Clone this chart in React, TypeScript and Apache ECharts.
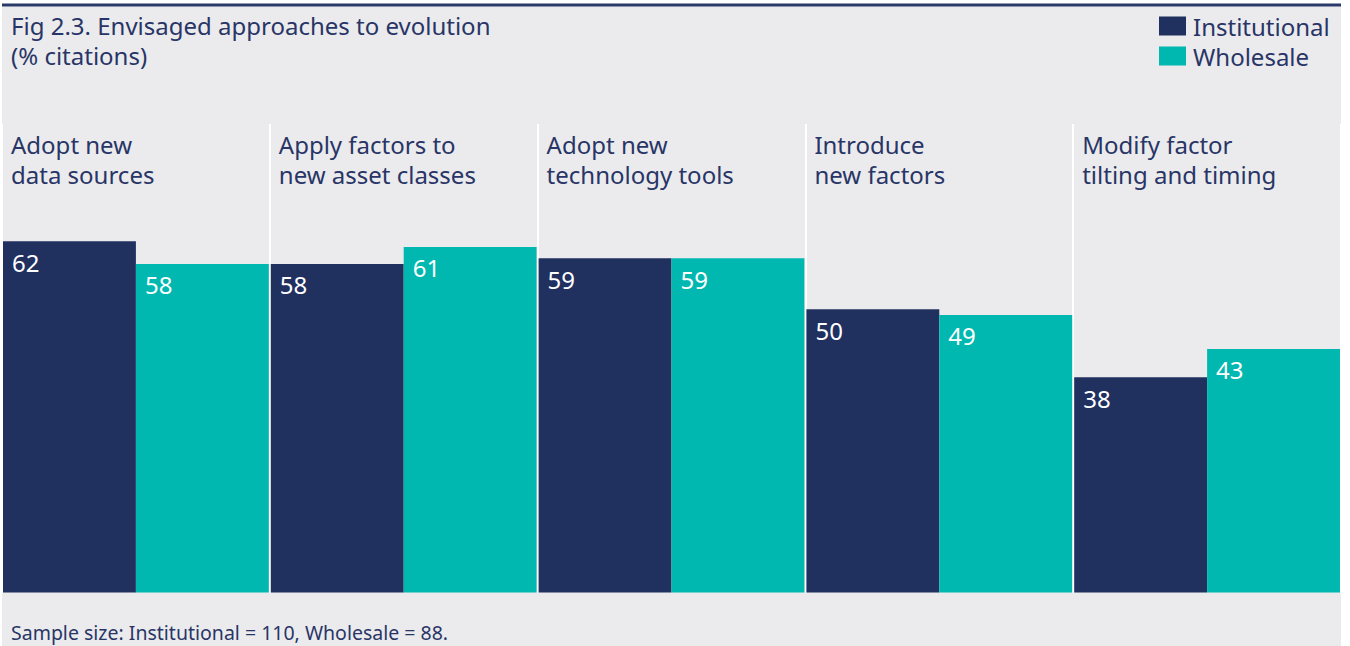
import React, { useEffect, useRef } from "react";
import * as echarts from "echarts";

const categories = [
  "Adopt new\ndata sources",
  "Apply factors to\nnew asset classes",
  "Adopt new\ntechnology tools",
  "Introduce\nnew factors",
  "Modify factor\ntilting and timing",
];
const institutional = [62, 58, 59, 50, 38];
const wholesale = [58, 61, 59, 49, 43];
const seriesNames = ["Institutional", "Wholesale"];
const titleText = "Fig 2.3. Envisaged approaches to evolution\n(% citations)";
const footnote = "Sample size: Institutional = 110, Wholesale = 88.";

const NAVY = "#20305f";
const TEAL = "#00b8b0";
const BG = "#ebebed";
const TXT = "#283566";
const FONT = "Noto Sans";

export default function App() {
  const ref = useRef<HTMLDivElement>(null);
  useEffect(() => {
    if (!ref.current) return;
    const chart = echarts.init(ref.current, undefined, { renderer: "svg" });
    const gridLeft = 2;
    const gridRight = 9;
    const gridTop = 124;
    const gridBottom = 53.5;
    const label = {
      show: true,
      position: "insideTopLeft" as const,
      distance: 9,
      color: "#ffffff",
      fontSize: 24,
      fontFamily: FONT,
    };
    chart.setOption({
      animation: false,
      backgroundColor: "#ffffff",
      textStyle: { fontFamily: FONT },
      grid: { left: gridLeft, right: gridRight, top: gridTop, bottom: gridBottom },
      legend: {
        data: seriesNames,
        orient: "vertical",
        left: 1159,
        top: 14,
        padding: 0,
        itemWidth: 27,
        itemHeight: 19,
        itemGap: 6,
        icon: "rect",
        textStyle: { fontSize: 24, lineHeight: 19, color: TXT, fontFamily: FONT, padding: [0, 0, 0, 2] },
        selectedMode: false,
      },
      xAxis: {
        type: "category",
        data: categories,
        axisLine: { show: false },
        axisTick: { show: false },
        axisLabel: { show: false },
        splitLine: { show: true, lineStyle: { color: "#ffffff", width: 2 } },
      },
      yAxis: {
        type: "value",
        min: 0,
        max: 82.7,
        show: false,
        splitLine: { show: false },
      },
      graphic: [
        { type: "rect", z: -10, shape: { x: 2, y: 6.5, width: 1339, height: 640 }, style: { fill: BG } },
        { type: "rect", z: -9, shape: { x: 2, y: 3.5, width: 1339, height: 3 }, style: { fill: "#2a3a6a" } },
        {
          type: "text",
          left: 11,
          top: 10,
          style: { text: titleText, fontSize: 24, lineHeight: 30, fill: TXT, fontFamily: FONT },
        },
        {
          type: "text",
          left: 11,
          top: 620,
          style: { text: footnote, fontSize: 19.5, lineHeight: 24, fill: TXT, fontFamily: FONT },
        },
      ],
      series: [
        {
          name: seriesNames[0],
          type: "bar",
          data: institutional,
          itemStyle: { color: NAVY },
          barGap: "0%",
          barCategoryGap: 2,
          label,
        },
        {
          name: seriesNames[1],
          type: "bar",
          data: wholesale,
          itemStyle: { color: TEAL },
          barGap: "0%",
          barCategoryGap: 2,
          label,
        },
      ],
    });
    const c0 = chart.convertToPixel({ xAxisIndex: 0 }, 0) as number;
    const c1 = chart.convertToPixel({ xAxisIndex: 0 }, 1) as number;
    const band = c1 - c0;
    const catTexts = categories.map((cat, i) => {
      const cx = chart.convertToPixel({ xAxisIndex: 0 }, i) as number;
      return {
        type: "text",
        id: "cat" + i,
        x: cx - band / 2 + 9,
        y: 129.5,
        style: { text: cat, fontSize: 24, lineHeight: 30, fill: TXT, fontFamily: FONT },
      };
    });
    chart.setOption({ graphic: catTexts });
    return () => chart.dispose();
  }, []);
  return (
    <div
      ref={ref}
      style={{ position: "fixed", left: 0, top: 0, width: 1350, height: 646 }}
    />
  );
}
